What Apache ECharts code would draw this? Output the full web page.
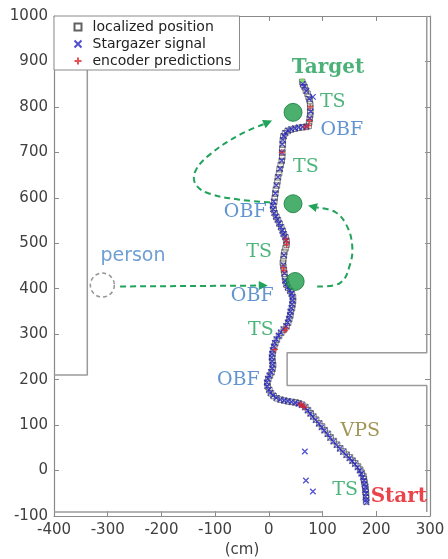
<!DOCTYPE html>
<html>
<head>
<meta charset="utf-8">
<script src="https://cdn.jsdelivr.net/npm/echarts@6/dist/echarts.min.js"></script>
<style>
  html, body { margin: 0; padding: 0; background: #fff; }
  #chart { width: 448px; height: 559px; }
</style>
</head>
<body>
<div id="chart"></div>
<script>
// Axis ranges (cm)
const X_TICKS = [-400, -300, -200, -100, 0, 100, 200, 300];
const Y_TICKS = [-100, 0, 100, 200, 300, 400, 500, 600, 700, 800, 900, 1000];

// Localized robot positions along the run (x, y in cm)
const LOCALIZED = [
  [181,-68],[181,-61],[181,-54],[180,-47],[180,-40],[179,-33],[178,-26],[177,-19],[176,-12],[173,-5],
  [170,2],[166,9],[161,16],[156,22],[151,29],[145,35],[139,42],[133,49],[127,57],[121,65],
  [115,73],[110,81],[104,89],[99,97],[94,104],[88,112],[83,119],[78,126],[73,133],[68,140],
  [62,145],[56,148],[50,150],[43,151],[36,152],[29,154],[22,156],[15,159],[9,164],[4,170],
  [1,177],[-2,185],[-3,193],[-1,201],[2,209],[5,216],[7,224],[8,232],[7,240],[6,248],
  [7,256],[8,264],[10,272],[12,280],[15,288],[19,296],[23,303],[28,310],[33,317],[36,325],
  [38,333],[40,341],[41,349],[43,357],[44,365],[45,373],[45,381],[43,388],[40,395],[36,402],
  [33,409],[31,417],[30,425],[29,433],[28,441],[27,449],[26,457],[27,465],[28,473],[29,481],
  [31,489],[33,497],[33,505],[31,513],[28,520],[26,527],[23,535],[20,543],[17,551],[14,558],
  [11,566],[9,574],[8,582],[10,591],[11,600],[12,609],[13,618],[15,627],[16,636],[17,645],
  [19,654],[20,663],[22,672],[24,681],[25,690],[25,699],[25,708],[26,717],[26,726],[27,735],
  [30,742],[35,747],[41,750],[48,752],[55,754],[62,755],[69,756],[74,758],[75,766],[76,774],
  [77,782],[77,790],[77,798],[77,806],[76,814],[74,822],[72,829],[69,836],[67,843],[64,849],
  [62,855]
];

// Raw Stargazer fixes (x, y in cm)
const STARGAZER = [
  [182,-70],[181,-65],[180,-58],[181,-50],[179,-43],[180,-36],[178,-30],[177,-22],[175,-15],[172,-7],
  [169,0],[165,7],[160,14],[155,21],[150,27],[144,34],[138,41],[132,48],[126,56],[120,64],
  [114,72],[109,80],[103,88],[98,95],[93,103],[87,111],[82,118],[77,125],[72,132],[67,139],
  [61,144],[55,147],[49,149],[42,151],[35,153],[28,154],[21,156],[14,160],[8,165],[3,171],
  [0,178],[-3,186],[-4,194],[-2,202],[1,209],[4,217],[6,225],[7,233],[6,241],[5,249],
  [6,257],[7,265],[9,273],[11,281],[14,289],[18,297],[22,304],[27,311],[32,318],
  [35,326],[37,334],[39,342],[40,350],[42,358],[43,366],[44,374],[44,382],[42,389],[39,396],
  [35,403],[32,410],[30,418],[29,434],[27,452],[28,474],
  [32,506],[30,514],[27,521],[25,528],[22,536],[19,544],[16,552],[13,559],[10,567],[8,575],
  [7,583],[9,592],[12,610],[14,628],[17,646],[21,664],[24,682],[24,700],[25,718],
  [26,728],[28,736],[31,743],[36,748],[42,751],[49,753],[56,755],[63,756],[70,757],
  [76,775],[78,790],[75,818],[82,822],[70,835],[66,845],[63,851],
  [67,42],[69,-22],[82,-46]
];

// Encoder dead-reckoning predictions (x, y in cm)
const ENCODER = [
  [66,139],[64,142],[61,144],[58,146],
  [11,266],[30,308],[32,313],
  [28,440],[27,446],
  [33,497],[33,503],[32,509],
  [24,700],[68,756],[74,759],[76,770],[77,800]
];

// Map outline (cm)
const WALL_LEFT = [[-338,1000],[-338,210],[-400,210]];
const WALL_RIGHT = [[294,1000],[294,259],[34,259],[34,187],[294,187],[294,-91]];
const WALL_BOTTOM = [[-400,-91],[100,-91]];

// Obstacles, pedestrian and goal (cm)
const OBSTACLES = [[45,788],[45,587],[49,416]];
const PERSON = [[-310,408]];
const GOAL = [[62,858]];

// Dashed motion arrows (cm), last point is the arrow tip
const ARROWS = [
  [[-277,405],[-2,407]],
  [[90,405],[133,413],[151,453],[155,497],[144,541],[123,569],[73,583]],
  [[2,590],[-54,596],[-110,609],[-136,629],[-137,658],[-110,695],[-54,739],[6,770]]
];

// Text annotations and their anchors (cm)
const NOTE_TEXT = ['Target','TS','OBF','TS','OBF','TS','OBF','TS','OBF','VPS','TS','Start','person'];
const NOTE_AT = [[110,887],[119,810],[136,750],[69,667],[-44,568],[-18,480],[-31,383],[-15,310],[-57,200],[170,86],[142,-42],[242,-57],[-253,471]];

const SANS = 'DejaVu Sans';
const SERIF = 'DejaVu Serif';
const GREEN = '#21a35b';

const noteStyle = {
  Target: { color: '#1f9e57', fontFamily: SERIF, fontWeight: 'bold', fontSize: 20 },
  TS:     { color: GREEN, fontFamily: SERIF, fontSize: 19 },
  OBF:    { color: '#3b79c3', fontFamily: SERIF, fontSize: 19 },
  VPS:    { color: '#8a7b2c', fontFamily: SERIF, fontSize: 19 },
  Start:  { color: '#e5141c', fontFamily: SERIF, fontWeight: 'bold', fontSize: 20 },
  person: { color: '#4a86c8', fontFamily: SANS, fontSize: 19 }
};

const chart = echarts.init(document.getElementById('chart'), null, { renderer: 'canvas' });

const axisGray = '#8a8a8a';
const tickLabel = { color: '#404040', fontFamily: SANS, fontSize: 15, formatter: v => String(v) };

function wall(data) {
  return {
    type: 'line', data: data, symbol: 'none', silent: true, z: 1,
    lineStyle: { color: '#9a9a9a', width: 1.5 }, clip: false
  };
}

function frameAxis(extra) {
  return Object.assign({
    type: 'value', interval: 100,
    axisLine: { show: true, onZero: false, lineStyle: { color: axisGray, width: 1.2 } },
    axisTick: { show: true, inside: true, length: 5, lineStyle: { color: axisGray } },
    splitLine: { show: false }
  }, extra);
}

const CROSS_X = 'path://M0,0L10,10M10,0L0,10';
const CROSS_PLUS = 'path://M5,0L5,10M0,5L10,5';

const xMin = X_TICKS[0], xMax = X_TICKS[X_TICKS.length - 1];
const yMin = Y_TICKS[0], yMax = Y_TICKS[Y_TICKS.length - 1];

chart.setOption({
  animation: false,
  backgroundColor: '#fff',
  grid: { left: 54, right: 18, top: 16, bottom: 43, outerBoundsMode: 'none', containLabel: false },
  legend: {
    data: ['localized position', 'Stargazer signal', 'encoder predictions'],
    orient: 'vertical', left: 54, top: 16,
    padding: [4, 8, 2, 18], itemGap: 3, itemWidth: 7, itemHeight: 7,
    backgroundColor: '#fff', borderColor: axisGray, borderWidth: 1,
    textStyle: { color: '#222', fontFamily: SANS, fontSize: 14, lineHeight: 14, padding: [0, 0, 0, 6] }
  },
  xAxis: [
    frameAxis({
      position: 'bottom', min: xMin, max: xMax,
      name: '(cm)', nameLocation: 'middle', nameGap: 27,
      nameTextStyle: { color: '#404040', fontFamily: SANS, fontSize: 15 },
      axisLabel: Object.assign({ margin: 7 }, tickLabel)
    }),
    frameAxis({ position: 'top', min: xMin, max: xMax, axisLabel: { show: false } })
  ],
  yAxis: [
    frameAxis({
      position: 'left', min: yMin, max: yMax,
      axisLabel: Object.assign({ margin: 6 }, tickLabel)
    }),
    frameAxis({ position: 'right', min: yMin, max: yMax, axisLabel: { show: false } })
  ],
  series: [
    wall(WALL_LEFT), wall(WALL_RIGHT), wall(WALL_BOTTOM),
    {
      name: 'localized position', type: 'scatter', data: LOCALIZED, z: 3,
      symbol: 'rect', symbolSize: 5.5,
      itemStyle: { color: 'none', borderColor: '#3a3a3a', borderWidth: 0.8 }
    },
    {
      name: 'Stargazer signal', type: 'scatter', data: STARGAZER, z: 4,
      symbol: CROSS_X, symbolSize: 5.5,
      itemStyle: { color: 'none', borderColor: '#2323c4', borderWidth: 1.2 }
    },
    {
      name: 'encoder predictions', type: 'scatter', data: ENCODER, z: 5,
      symbol: CROSS_PLUS, symbolSize: 6,
      itemStyle: { color: 'none', borderColor: '#e0262a', borderWidth: 1.2 }
    },
    {
      type: 'scatter', data: OBSTACLES, z: 6, symbol: 'circle', symbolSize: 18,
      itemStyle: { color: '#1e9c4a', borderColor: '#12793a', borderWidth: 1 }
    },
    {
      type: 'scatter', data: PERSON, z: 6, symbol: 'circle', symbolSize: 24,
      itemStyle: { color: 'none', borderColor: '#7a7a7a', borderWidth: 1.5, borderType: [4, 3] }
    },
    {
      type: 'scatter', data: GOAL, z: 6, symbol: 'circle', symbolSize: 4,
      itemStyle: { color: '#66e040' }
    },
    {
      type: 'custom', z: 7, clip: false, silent: true,
      data: ARROWS.map((p, i) => [p[p.length - 1][0], p[p.length - 1][1], i]),
      renderItem: function (params, api) {
        const pts = ARROWS[params.dataIndex].map(p => api.coord(p));
        const n = pts.length;
        const tip = pts[n - 1], prev = pts[n - 2];
        const dx = tip[0] - prev[0], dy = tip[1] - prev[1];
        const len = Math.sqrt(dx * dx + dy * dy) || 1;
        const ux = dx / len, uy = dy / len;
        const L = 9, W = 4.5;
        const base = [tip[0] - ux * L, tip[1] - uy * L];
        const linePts = pts.slice(0, n - 1).concat([base]);
        return {
          type: 'group',
          children: [
            {
              type: 'polyline',
              shape: { points: linePts, smooth: n > 2 ? 0.4 : 0 },
              style: { stroke: GREEN, lineWidth: 2, lineDash: [6, 4], fill: null }
            },
            {
              type: 'polygon',
              shape: { points: [tip, [base[0] - uy * W, base[1] + ux * W], [base[0] + uy * W, base[1] - ux * W]] },
              style: { fill: GREEN }
            }
          ]
        };
      }
    },
    {
      type: 'scatter', z: 8, silent: true, symbolSize: 0,
      data: NOTE_TEXT.map((t, i) => ({
        value: NOTE_AT[i],
        label: Object.assign({
          show: true, formatter: t, position: [0, 0], align: 'center', verticalAlign: 'middle'
        }, noteStyle[t])
      }))
    }
  ]
});
</script>
</body>
</html>
